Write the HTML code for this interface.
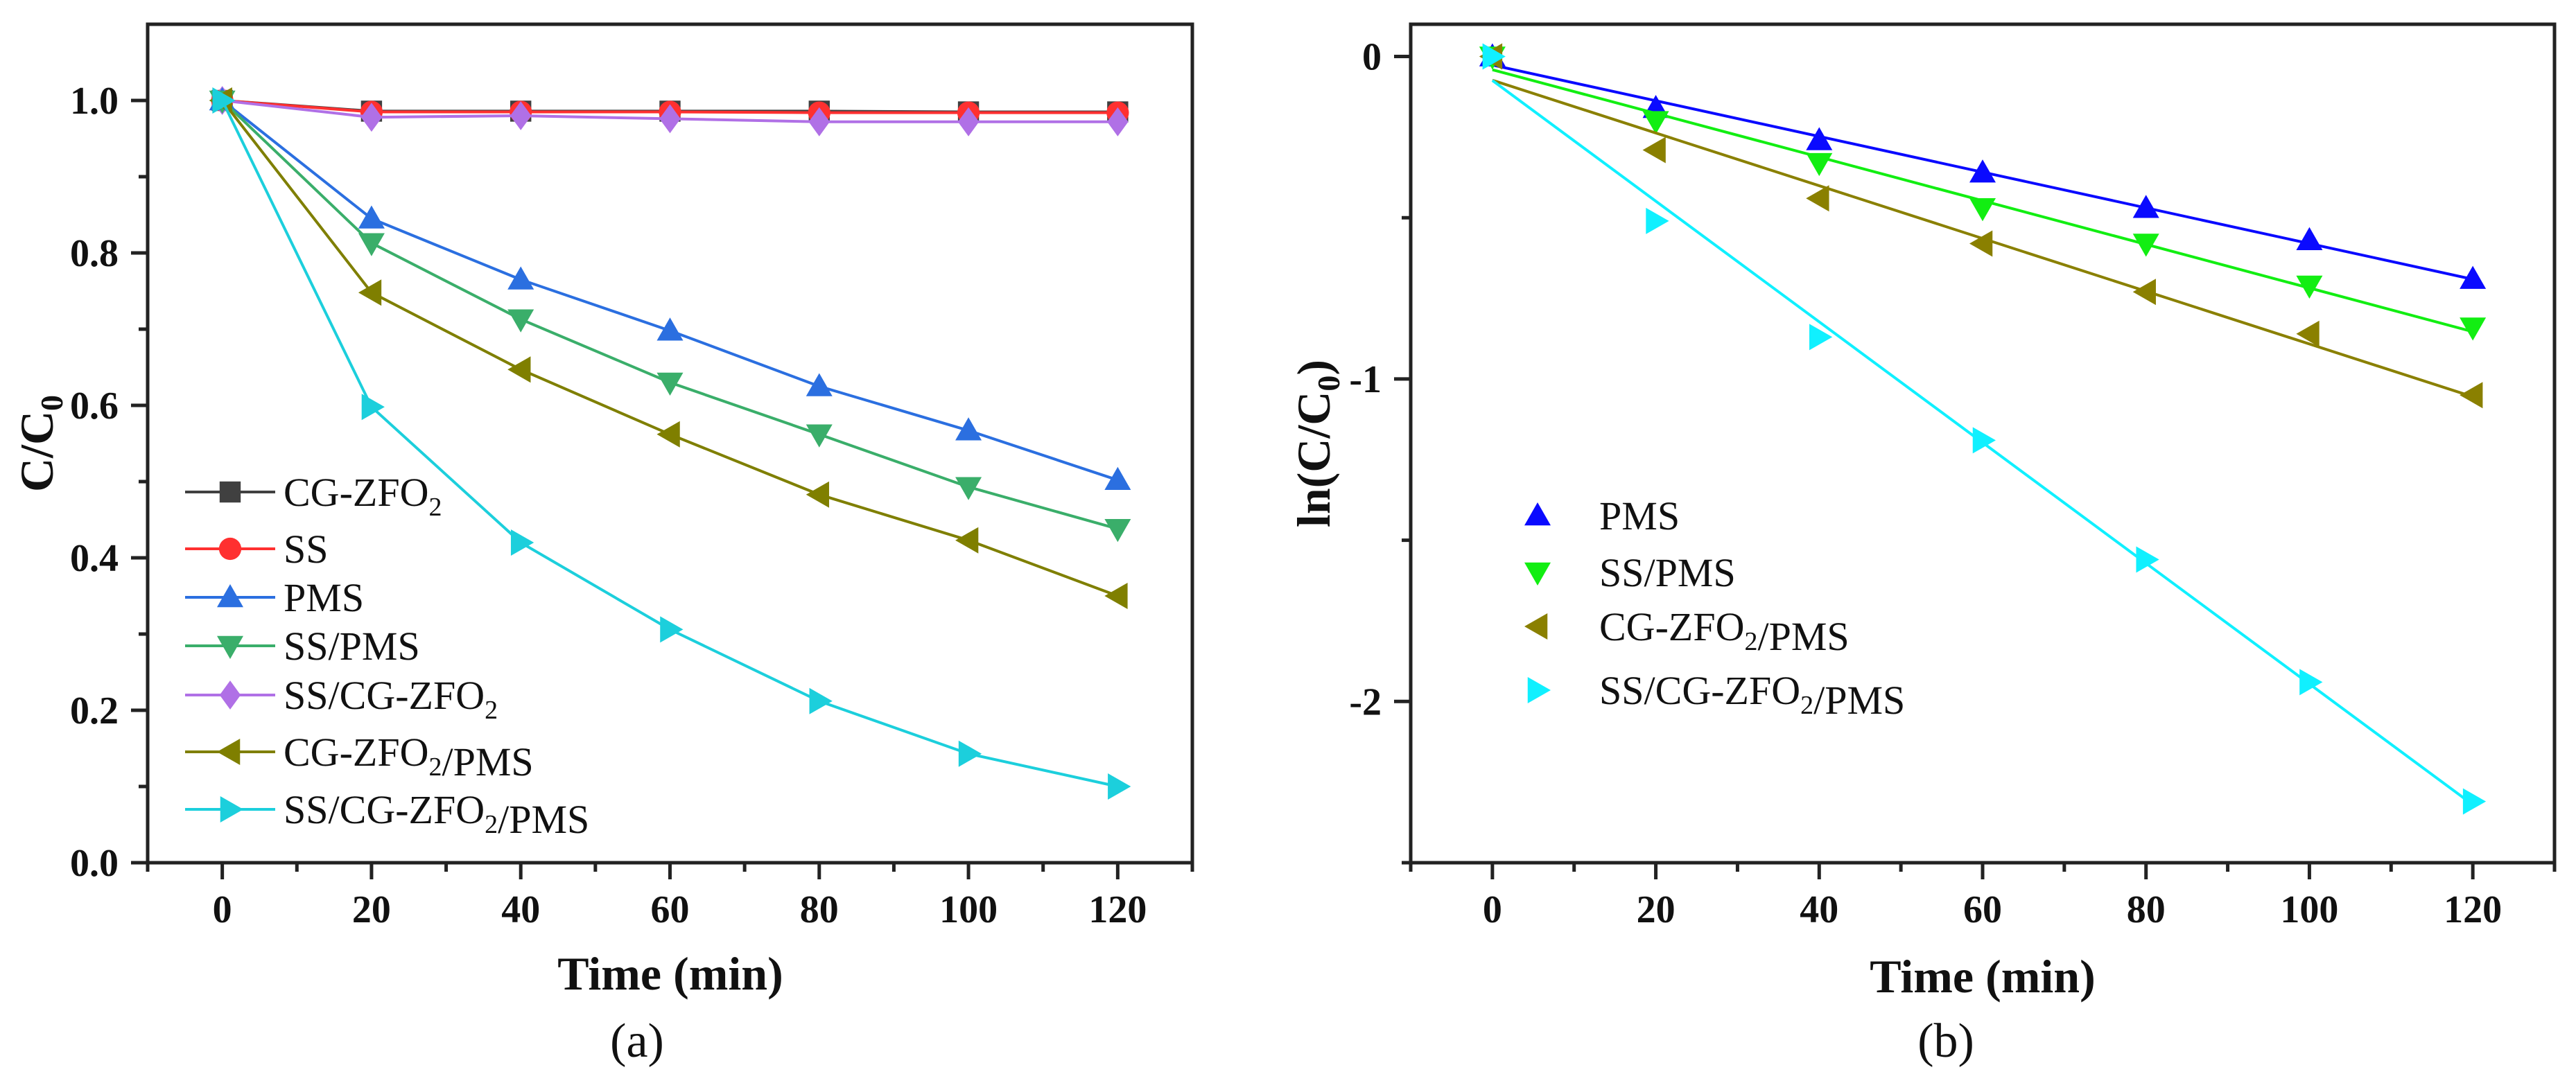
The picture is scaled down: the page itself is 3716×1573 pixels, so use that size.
<!DOCTYPE html>
<html><head><meta charset="utf-8">
<style>
html,body{margin:0;padding:0;background:#fff;}
svg{display:block;font-family:"Liberation Serif",serif;}
</style></head>
<body>
<svg id="fig" width="3716" height="1573" viewBox="0 0 3716 1573" xmlns="http://www.w3.org/2000/svg"></svg>
<script>
const times = [0,20,40,60,80,100,120];
// Panel (a) series: C/C0
const aCG = [1,0.986,0.986,0.986,0.986,0.985,0.985];
const aSS = [1,0.985,0.985,0.985,0.984,0.984,0.984];
const aPMS = [1,0.845,0.765,0.698,0.625,0.567,0.502];
const aSSPMS = [1,0.813,0.713,0.630,0.562,0.493,0.438];
const aSSCG = [1,0.978,0.980,0.976,0.972,0.972,0.972];
const aCGPMS = [1,0.748,0.647,0.562,0.483,0.423,0.350];
const aSSCGPMS = [1,0.598,0.420,0.306,0.212,0.143,0.100];
// Panel (b) series: ln(C/C0)
const bPMS = [0,-0.16,-0.26,-0.36,-0.47,-0.57,-0.69];
const bSSPMS = [0,-0.20,-0.33,-0.47,-0.58,-0.71,-0.84];
const bCGPMS = [0,-0.29,-0.44,-0.58,-0.73,-0.86,-1.05];
const bSSCGPMS = [0,-0.51,-0.87,-1.19,-1.56,-1.94,-2.31];
const xTicks = [0,20,40,60,80,100,120];
const aYTicks = [0,0.2,0.4,0.6,0.8,1.0];
const aYTickLabels = ["0.0","0.2","0.4","0.6","0.8","1.0"];
const bYTicks = [0,-1,-2];
const bYTickLabels = ["0","-1","-2"];

const NS="http://www.w3.org/2000/svg";
const svg=document.getElementById('fig');
function mk(tag,attrs,parent){const e=document.createElementNS(NS,tag);for(const k in attrs)e.setAttribute(k,attrs[k]);(parent||svg).appendChild(e);return e;}

function makeAxis(px0,px1,py0,py1,xd,yd){
  return {
    x:v=>px0+(v-xd[0])/(xd[1]-xd[0])*(px1-px0),
    y:v=>py1-(v-yd[0])/(yd[1]-yd[0])*(py1-py0),
    px0,px1,py0,py1
  };
}
const A=makeAxis(213,1720,35,1245,[-10,130],[0,1.1]);
const B=makeAxis(2035,3685,35,1245,[-10,130],[-2.5,0.1]);

function marker(g,type,cx,cy,color,r){
  let e;
  if(type==='square') e=mk('rect',{x:cx-r*0.8,y:cy-r*0.8,width:r*1.6,height:r*1.6,fill:color},g);
  else if(type==='circle') e=mk('circle',{cx:cx,cy:cy,r:r*0.85,fill:color},g);
  else if(type==='up') e=mk('polygon',{points:`${cx},${cy-r} ${cx-r},${cy+r*0.75} ${cx+r},${cy+r*0.75}`,fill:color},g);
  else if(type==='down') e=mk('polygon',{points:`${cx},${cy+r} ${cx-r},${cy-r*0.75} ${cx+r},${cy-r*0.75}`,fill:color},g);
  else if(type==='left') e=mk('polygon',{points:`${cx-r},${cy} ${cx+r*0.75},${cy-r} ${cx+r*0.75},${cy+r}`,fill:color},g);
  else if(type==='right') e=mk('polygon',{points:`${cx+r},${cy} ${cx-r*0.75},${cy-r} ${cx-r*0.75},${cy+r}`,fill:color},g);
  else e=mk('polygon',{points:`${cx},${cy-r*1.1} ${cx+r*0.8},${cy} ${cx},${cy+r*1.1} ${cx-r*0.8},${cy}`,fill:color},g);
  
  
}

function drawFrame(ax,yTicks,yLabels,yMinor,name){
  const g=mk('g',{});
  
  
  const f=mk('rect',{x:ax.px0,y:ax.py0,width:ax.px1-ax.px0,height:ax.py1-ax.py0,fill:'none',stroke:'#222','stroke-width':5},g);
  
  
  xTicks.forEach(t=>{
    const X=ax.x(t);
    mk('line',{x1:X,y1:ax.py1,x2:X,y2:ax.py1+24,stroke:'#222','stroke-width':5},g);
    const tx=mk('text',{x:X,y:ax.py1+86,'text-anchor':'middle','font-size':56,'font-weight':'bold',fill:'#111'},g);
    tx.textContent=t;
    
    
  });
  for(let t=-10;t<=130;t+=20){const X=ax.x(t);mk('line',{x1:X,y1:ax.py1,x2:X,y2:ax.py1+13,stroke:'#222','stroke-width':5},g);}
  yTicks.forEach((t,i)=>{
    const Y=ax.y(t);
    mk('line',{x1:ax.px0-24,y1:Y,x2:ax.px0,y2:Y,stroke:'#222','stroke-width':5},g);
    const tx=mk('text',{x:ax.px0-42,y:Y+19,'text-anchor':'end','font-size':56,'font-weight':'bold',fill:'#111'},g);
    tx.textContent=yLabels[i];
    
    
  });
  yMinor.forEach(t=>{const Y=ax.y(t);mk('line',{x1:ax.px0-13,y1:Y,x2:ax.px0,y2:Y,stroke:'#222','stroke-width':5},g);});
}
drawFrame(A,aYTicks,aYTickLabels,[0.1,0.3,0.5,0.7,0.9],'panel-a');
drawFrame(B,bYTicks,bYTickLabels,[-0.5,-1.5,-2.5],'panel-b');

// Panel (a) series lines + markers
const aSeries=[
  {n:'CG-ZFO2',d:aCG,c:'#404040',m:'square'},
  {n:'SS',d:aSS,c:'#ff3030',m:'circle'},
  {n:'SS/CG-ZFO2',d:aSSCG,c:'#b070e6',m:'diamond'},
  {n:'PMS',d:aPMS,c:'#2b6fe0',m:'up'},
  {n:'SS/PMS',d:aSSPMS,c:'#3aae6a',m:'down'},
  {n:'CG-ZFO2/PMS',d:aCGPMS,c:'#7f7f00',m:'left'},
  {n:'SS/CG-ZFO2/PMS',d:aSSCGPMS,c:'#1ccfdc',m:'right'}
];
aSeries.forEach(s=>{
  const g=mk('g',{});
  
  
  const pts=times.map((t,i)=>A.x(t)+','+A.y(s.d[i])).join(' ');
  mk('polyline',{points:pts,fill:'none',stroke:s.c,'stroke-width':4},g);
  times.forEach((t,i)=>marker(g,s.m,A.x(t),A.y(s.d[i]),s.c,19));
});

// Panel (b) series: markers + linear fit
function fit(xs,ys){const n=xs.length;let sx=0,sy=0,sxx=0,sxy=0;for(let i=0;i<n;i++){sx+=xs[i];sy+=ys[i];sxx+=xs[i]*xs[i];sxy+=xs[i]*ys[i];}const m=(n*sxy-sx*sy)/(n*sxx-sx*sx);return {m,b:(sy-m*sx)/n};}
const bSeries=[
  {n:'PMS',d:bPMS,c:'#0a0aff',m:'up'},
  {n:'SS/PMS',d:bSSPMS,c:'#12ee12',m:'down'},
  {n:'CG-ZFO2/PMS',d:bCGPMS,c:'#8a8000',m:'left'},
  {n:'SS/CG-ZFO2/PMS',d:bSSCGPMS,c:'#10f0ff',m:'right'}
];
bSeries.forEach(s=>{
  const g=mk('g',{});
  
  
  const f=fit(times,s.d);
  const ln=mk('line',{x1:B.x(0),y1:B.y(f.b),x2:B.x(120),y2:B.y(f.b+f.m*120),stroke:s.c,'stroke-width':4},g);
  
  
  times.forEach((t,i)=>marker(g,s.m,B.x(t),B.y(s.d[i]),s.c,19));
});

// Legends
function legendText(g,x,y,label){
  const t=mk('text',{x:x,y:y+20,'font-size':58,fill:'#111'},g);
  const parts=label.split('2');
  parts.forEach((p,i)=>{
    const s=mk('tspan',{},t);s.textContent=p;
    if(i<parts.length-1){const sub=mk('tspan',{'font-size':38,dy:14},t);sub.textContent='2';const back=mk('tspan',{dy:-14},t);back.textContent='';}
  });
  
  
}
const aLegRows=[710,792,862,932,1003,1085,1168];
const aLegOrder=['CG-ZFO2','SS','PMS','SS/PMS','SS/CG-ZFO2','CG-ZFO2/PMS','SS/CG-ZFO2/PMS'];
const lgA=mk('g',{});


aLegOrder.forEach((n,i)=>{
  const s=aSeries.find(q=>q.n===n);
  const e=mk('g',{},lgA);
  
  
  mk('line',{x1:267,y1:aLegRows[i],x2:397,y2:aLegRows[i],stroke:s.c,'stroke-width':4},e);
  marker(e,s.m,332,aLegRows[i],s.c,19);
  legendText(e,409,aLegRows[i],n);
});
const bLegRows=[744,826,904,996];
const lgB=mk('g',{});


bSeries.forEach((s,i)=>{
  const e=mk('g',{},lgB);
  
  
  marker(e,s.m,2218,bLegRows[i],s.c,19);
  legendText(e,2307,bLegRows[i],s.n);
});

// Titles
function title(x,y,txt,opts,name){
  const t=mk('text',Object.assign({x:x,y:y,'text-anchor':'middle',fill:'#111'},opts));
  
  
  return t;
}
title(967,1428,'',{'font-size':68,'font-weight':'bold'},'x-axis-title-a').textContent='Time (min)';
title(2860,1432,'',{'font-size':68,'font-weight':'bold'},'x-axis-title-b').textContent='Time (min)';
title(919,1525,'',{'font-size':70},'panel-label-a').textContent='(a)';
title(2807,1525,'',{'font-size':70},'panel-label-b').textContent='(b)';
const ya=title(0,0,'',{'font-size':68,'font-weight':'bold',transform:'translate(76,640) rotate(-90)'},'y-axis-title-a');
ya.innerHTML='C/C<tspan font-size="46" dy="14">0</tspan>';
const yb=title(0,0,'',{'font-size':68,'font-weight':'bold',transform:'translate(1918,640) rotate(-90)'},'y-axis-title-b');
yb.innerHTML='ln(C/C<tspan font-size="46" dy="14">0</tspan><tspan dy="-14">)</tspan>';
</script>
</body></html>
